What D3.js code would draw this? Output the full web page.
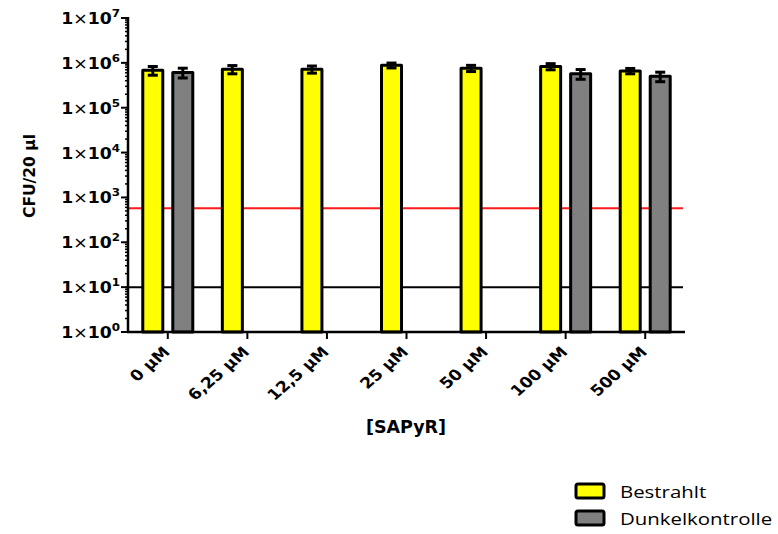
<!DOCTYPE html>
<html>
<head>
<meta charset="utf-8">
<script src="https://cdn.jsdelivr.net/npm/d3@7"></script>
<style>
  html, body { margin: 0; padding: 0; background: #fff; }
  svg { display: block; }
</style>
</head>
<body>
<svg id="chart" width="778" height="534"></svg>
<script>
// SAPyR concentrations on the x axis
const categories = ["0 µM", "6,25 µM", "12,5 µM", "25 µM", "50 µM", "100 µM", "500 µM"];
// Mean CFU/20 µl and standard deviation, irradiated samples
const bestrahltMean = [6.8e5, 7.2e5, 7.2e5, 8.8e5, 7.6e5, 8.3e5, 6.6e5];
const bestrahltSd   = [1.5e5, 1.5e5, 1.3e5, 1.1e5, 1.2e5, 1.3e5, 0.9e5];
// Dark controls (only measured for some concentrations)
const dunkelMean = [6.1e5, null, null, null, null, 5.7e5, 5.0e5];
const dunkelSd   = [1.5e5, null, null, null, null, 1.4e5, 1.2e5];
// Reference lines
const thresholdRed = 575;
const thresholdBlack = 10;
// Y tick exponents
const yExponents = [0, 1, 2, 3, 4, 5, 6, 7];

const svg = d3.select("#chart");
const plotLeft = 128, plotRight = 685, plotTop = 18, plotBottom = 332;

const x = d3.scaleBand().domain(categories).range([plotLeft, plotRight]).padding(0);
const y = d3.scaleLog().domain([1, 1e7]).range([plotBottom, plotTop]);

const barW = 20, gap = 5;
const g = svg.append("g");

// Reference lines
g.append("line")
  .attr("x1", plotLeft).attr("x2", plotRight - 2)
  .attr("y1", y(thresholdRed)).attr("y2", y(thresholdRed))
  .attr("stroke", "#ff1a1a").attr("stroke-width", 2);
g.append("line")
  .attr("x1", plotLeft).attr("x2", plotRight - 2)
  .attr("y1", y(thresholdBlack)).attr("y2", y(thresholdBlack))
  .attr("stroke", "#000").attr("stroke-width", 2);

function drawSeries(means, sds, offset, fill) {
  const data = categories.map((c, i) => ({ c, m: means[i], s: sds[i] })).filter(d => d.m != null);
  const cx = d => x(d.c) + x.bandwidth() / 2 + offset;
  g.selectAll(null).data(data).enter().append("rect")
    .attr("x", d => cx(d) - barW / 2)
    .attr("y", d => y(d.m))
    .attr("width", barW)
    .attr("height", d => plotBottom - y(d.m))
    .attr("fill", fill)
    .attr("stroke", "#000")
    .attr("stroke-width", 3)
    .attr("stroke-linejoin", "round");
  const eb = g.selectAll(null).data(data).enter().append("g");
  eb.append("line")
    .attr("x1", cx).attr("x2", cx)
    .attr("y1", d => y(d.m + d.s)).attr("y2", d => y(d.m - d.s))
    .attr("stroke", "#000").attr("stroke-width", 3);
  [1, -1].forEach(sign => {
    eb.append("line")
      .attr("x1", d => cx(d) - 5).attr("x2", d => cx(d) + 5)
      .attr("y1", d => y(d.m + sign * d.s)).attr("y2", d => y(d.m + sign * d.s))
      .attr("stroke", "#000").attr("stroke-width", 3);
  });
}
drawSeries(bestrahltMean, bestrahltSd, -(barW / 2 + gap), "#ffff00");
drawSeries(dunkelMean, dunkelSd, barW / 2 + gap, "#808080");

// Y axis with log minor ticks
const yAxis = g.append("g");
const minor = [];
for (let e = 0; e < 7; e++) for (let k = 2; k <= 9; k++) minor.push(k * Math.pow(10, e));
yAxis.selectAll(null).data(minor).enter().append("line")
  .attr("x1", plotLeft - 3).attr("x2", plotLeft)
  .attr("y1", d => y(d)).attr("y2", d => y(d))
  .attr("stroke", "#000").attr("stroke-width", 1.5);
yAxis.selectAll(null).data(yExponents).enter().append("line")
  .attr("x1", plotLeft - 7).attr("x2", plotLeft)
  .attr("y1", d => y(Math.pow(10, d))).attr("y2", d => y(Math.pow(10, d)))
  .attr("stroke", "#000").attr("stroke-width", 2);
yAxis.append("line")
  .attr("x1", plotLeft).attr("x2", plotLeft).attr("y1", plotTop - 1).attr("y2", plotBottom + 1)
  .attr("stroke", "#000").attr("stroke-width", 2.5);

const yl = yAxis.selectAll(null).data(yExponents).enter().append("text")
  .attr("transform", d => `translate(${plotLeft - 8},${y(Math.pow(10, d)) + 6}) scale(1.08,1)`)
  .attr("text-anchor", "end")
  .attr("font-family", "DejaVu Sans")
  .attr("font-weight", "bold")
  .attr("font-size", 16);
yl.append("tspan").text("1");
yl.append("tspan").attr("font-weight", "normal").text("×");
yl.append("tspan").text("10");
yl.append("tspan").attr("font-size", 11).attr("dy", -7).text(d => d);

// X axis
const xAxis = g.append("g");
xAxis.append("line")
  .attr("x1", plotLeft - 1).attr("x2", plotRight).attr("y1", plotBottom).attr("y2", plotBottom)
  .attr("stroke", "#000").attr("stroke-width", 2.5);
xAxis.selectAll(null).data(categories).enter().append("line")
  .attr("x1", d => x(d) + x.bandwidth() / 2).attr("x2", d => x(d) + x.bandwidth() / 2)
  .attr("y1", plotBottom).attr("y2", plotBottom + 7)
  .attr("stroke", "#000").attr("stroke-width", 2);
xAxis.selectAll(null).data(categories).enter().append("text")
  .attr("transform", d => `translate(${x(d) + x.bandwidth() / 2 + 3},${plotBottom + 21}) scale(1.15,1) rotate(-45)`)
  .attr("text-anchor", "end")
  .attr("font-family", "DejaVu Sans")
  .attr("font-weight", "bold")
  .attr("font-size", 15)
  .text(d => d);

// Axis titles
svg.append("text")
  .attr("x", 406).attr("y", 433)
  .attr("text-anchor", "middle")
  .attr("font-family", "DejaVu Sans").attr("font-weight", "bold").attr("font-size", 17.5)
  .text("[SAPyR]");
svg.append("text")
  .attr("transform", "translate(35,176) rotate(-90)")
  .attr("text-anchor", "middle")
  .attr("font-family", "DejaVu Sans").attr("font-weight", "bold").attr("font-size", 15.5)
  .text("CFU/20 µl");

// Legend
const legend = svg.append("g");
const legendItems = [["Bestrahlt", "#ffff00"], ["Dunkelkontrolle", "#808080"]];
legendItems.forEach(([label, color], i) => {
  legend.append("rect")
    .attr("x", 576).attr("y", 484 + i * 27).attr("width", 28).attr("height", 14)
    .attr("rx", 2)
    .attr("fill", color).attr("stroke", "#000").attr("stroke-width", 3);
  legend.append("text")
    .attr("transform", `translate(620,${498 + i * 27}) scale(1.2,1)`)
    .attr("font-family", "Open Sans").attr("font-size", 17)
    .text(label);
});
</script>
</body>
</html>
